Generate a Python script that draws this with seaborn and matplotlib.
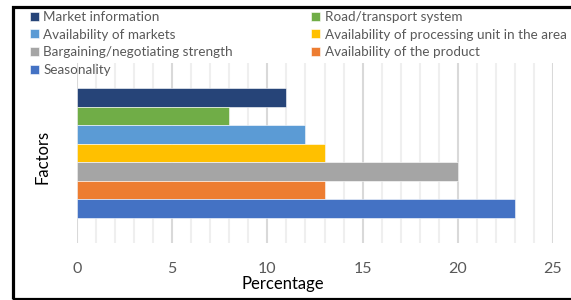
import matplotlib
matplotlib.use('Agg')
import matplotlib.pyplot as plt
import pandas as pd
import seaborn as sns
from matplotlib.patches import Rectangle

# Data (top to bottom as drawn)
factors = ['Market information', 'Road/transport system', 'Availability of markets',
           'Availability of processing unit in the area', 'Bargaining/negotiating strength',
           'Availability of the product', 'Seasonality']
percent = [11, 8, 12, 13, 20, 13, 23]
colors = ['#264478', '#70AD47', '#5B9BD5', '#FFC000', '#A5A5A5', '#ED7D31', '#4472C4']
xticks = [0, 5, 10, 15, 20, 25]

df = pd.DataFrame({'group': [''] * len(factors), 'factor': factors, 'value': percent})

sns.set_style('white')
plt.rcParams['font.family'] = ['Lato', 'DejaVu Sans']

fig = plt.figure(figsize=(5.71, 3.0), dpi=100)
ax = fig.add_axes([77 / 571, 57 / 300, 476 / 571, 180 / 300])

sns.barplot(data=df, y='group', x='value', hue='factor', hue_order=factors,
            palette=colors, saturation=1, orient='h', width=0.72, ax=ax,
            edgecolor='white', linewidth=0.4, legend=True)

ax.set_xlim(0, 25)
ax.set_ylim(0.5, -0.5)
ax.set_xticks(xticks)
ax.set_xticks(range(0, 26), minor=True)
ax.grid(False)
ax.grid(axis='x', which='minor', color='#EFEFEF', linewidth=1.5)
ax.grid(axis='x', which='major', color='#D9D9D9', linewidth=1.5)
ax.set_axisbelow(True)
ax.set_yticks([])
for s in ax.spines.values():
    s.set_visible(False)
ax.tick_params(axis='x', which='both', length=0, pad=14, labelsize=11.5, labelcolor='#595959')

ax.set_xlabel('Percentage', fontsize=12, color='black')
ax.xaxis.set_label_coords(0.433, -0.228)
ax.xaxis.label.set_va('center')
ax.set_ylabel('Factors', fontsize=12, color='black')
ax.yaxis.set_label_coords(-0.0735, 0.478)
ax.yaxis.label.set_va('center')

# Legend: two columns, filled column-first
handles, labels = ax.get_legend_handles_labels()
ax.get_legend().remove()
order = [0, 2, 4, 6, 1, 3, 5]
leg = fig.legend([handles[i] for i in order], [labels[i] for i in order],
                 ncol=2, loc='upper left', bbox_to_anchor=(30 / 571, 1 - 11 / 300),
                 frameon=False, fontsize=9.7, handlelength=0.65, handleheight=0.65,
                 handletextpad=0.35, labelspacing=0.42, columnspacing=5.8,
                 borderpad=0, borderaxespad=0)
for t in leg.get_texts():
    t.set_color('#595959')

# Black frame around the figure (cropped on the right)
fig.add_artist(Rectangle((12.5 / 571, 1.5 / 300), 1.2, 292 / 300,
                         transform=fig.transFigure, fill=False,
                         edgecolor='black', linewidth=2.3, clip_on=False))

fig.savefig('out.png', dpi=100)
